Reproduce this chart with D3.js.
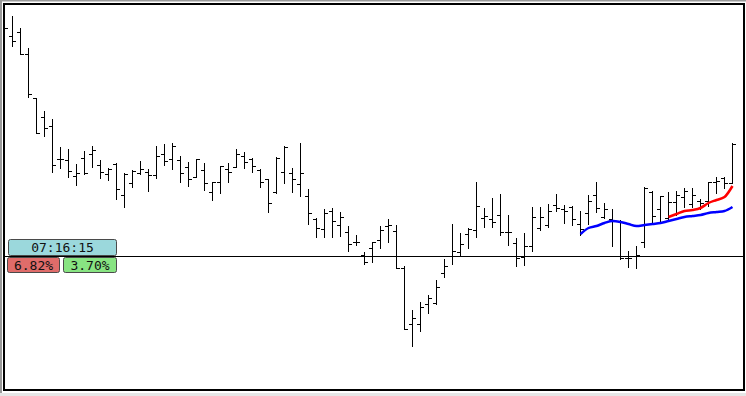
<!DOCTYPE html>
<html>
<head>
<meta charset="utf-8">
<script src="https://cdn.jsdelivr.net/npm/d3@7"></script>
<style>
html,body{margin:0;padding:0;background:#fff;overflow:hidden;}
svg{display:block;}
</style>
</head>
<body>
<script>
// ---- data (price points) ----
const opens  = [1226,1220,1224,1202,1158,1139,1130,1097,1096,1080,1098,1102,1091,1082,1092,1061,1073,1083,1084,1081,1102,1097,1096,1089,1079,1086,1064,1074,1087,1089,1100,1097,1086,1077,1064,1084,1083,1072,1060,1037,1027,1045,1031,1024,1014,1001,1008,1016,1030,1025,988,932,932,952,953,983,1000,1004,1022,1026,1038,1037,1041,1024,1013,999,1010,1028,1031,1051,1047,1049,1032,1043,1061,1039,1037,1035,998,1000,1014,1064,1047,1038,1054,1059,1052,1055,1055,1074,1078,1073];
const highs  = [1230,1240,1228,1208,1158,1145,1137,1109,1107,1092,1105,1110,1096,1088,1093,1083,1086,1095,1087,1110,1112,1113,1100,1094,1097,1093,1074,1090,1093,1107,1104,1098,1087,1077,1099,1110,1088,1113,1067,1038,1047,1048,1044,1030,1021,1004,1014,1030,1037,1031,990,946,954,961,976,997,1032,1023,1028,1074,1048,1058,1062,1041,1018,1023,1049,1049,1052,1062,1051,1050,1045,1061,1074,1053,1047,1036,1005,1010,1069,1065,1060,1064,1065,1068,1068,1057,1074,1079,1079,1113];
const lows   = [1225,1210,1202,1159,1123,1120,1084,1088,1079,1071,1082,1089,1078,1076,1057,1049,1069,1082,1065,1078,1091,1087,1074,1070,1079,1066,1056,1063,1074,1089,1088,1084,1069,1044,1063,1073,1064,1060,1032,1019,1019,1019,1020,1005,1011,992,994,1008,1014,988,927,910,925,943,952,979,992,1001,1008,1019,1029,1029,1021,1011,990,991,1005,1026,1029,1045,1033,1031,1021,1032,1044,1038,1010,997,989,988,1009,1034,1033,1037,1041,1049,1049,1047,1050,1063,1068,1073];
const closes = [1228,1215,1202,1162,1123,1128,1091,1097,1085,1083,1083,1106,1084,1087,1067,1082,1085,1087,1081,1100,1095,1110,1083,1077,1097,1073,1074,1090,1084,1102,1094,1090,1074,1053,1098,1109,1077,1083,1043,1028,1043,1035,1039,1012,1014,994,1014,1026,1031,988,927,938,949,958,969,990,1005,1012,1027,1050,1040,1034,1024,1024,998,1010,1039,1039,1045,1048,1045,1037,1027,1055,1048,1047,1036,998,998,1001,1068,1040,1060,1054,1061,1065,1061,1053,1074,1075,1073,1112];
const blueStart = 72;
const blueMA = [1022,1028,1030,1033,1035,1034,1032,1030,1031,1032,1033,1035,1037,1039,1040,1041,1043,1044,1045,1049];
const redStart = 83;
const redMA = [1039,1042,1045,1046,1048,1053,1056,1059,1070];
const refPrice = 1000;
const timeLabel = "07:16:15";
const pctLabels = ["6.82%", "3.70%"];

// ---- layout ----
const W = 746, H = 396;
const svg = d3.select("body").append("svg").attr("width", W).attr("height", H);

// window frame
svg.append("rect").attr("x",0).attr("y",0).attr("width",W).attr("height",H).attr("fill","#ffffff");
svg.append("rect").attr("x",0).attr("y",0).attr("width",2).attr("height",H).attr("fill","#9a9a9a");
svg.append("rect").attr("x",0).attr("y",0).attr("width",W).attr("height",1.5).attr("fill","#9a9a9a");
svg.append("rect").attr("x",0).attr("y",393).attr("width",W).attr("height",3).attr("fill","#e6e6e6");

const x = d3.scaleLinear().domain([0, opens.length - 1]).range([4, 732]);
const y = d3.scaleLinear().domain([866, 1252]).range([390, 4]);
const px = i => Math.round(x(i)) + 0.5;
const py = v => Math.round(y(v)) + 0.5;

svg.append("clipPath").attr("id","clip").append("rect")
  .attr("x",5).attr("y",5).attr("width",738).attr("height",384);

const g = svg.append("g").attr("clip-path","url(#clip)");

// reference line
g.append("line").attr("x1",4).attr("x2",744)
  .attr("y1", py(refPrice)).attr("y2", py(refPrice))
  .attr("stroke","#000").attr("stroke-width",1);

// OHLC bars
const bars = g.append("g").attr("stroke","#000").attr("stroke-width",1).attr("fill","none");
const idx = d3.range(opens.length);
bars.selectAll("path.bar").data(idx).join("path")
  .attr("class","bar")
  .attr("d", i => {
    const cx = px(i);
    return `M${cx},${Math.round(y(highs[i]))}V${Math.round(y(lows[i]))+1}` +
           `M${cx-3.5},${py(opens[i])}H${cx}` +
           `M${cx},${py(closes[i])}H${cx+3.5}`;
  });

// moving averages
const line = d3.line().x(d => x(d[0]) + 0.5).y(d => y(d[1])).curve(d3.curveMonotoneX);
g.append("path").datum(blueMA.map((v,k) => [blueStart + k, v]))
  .attr("d", line).attr("fill","none").attr("stroke","#0000ff").attr("stroke-width",2.5);
g.append("path").datum(redMA.map((v,k) => [redStart + k, v]))
  .attr("d", line).attr("fill","none").attr("stroke","#ff0000").attr("stroke-width",2.5);

// chart border
svg.append("rect").attr("x",4).attr("y",4).attr("width",740).attr("height",386)
  .attr("fill","none").attr("stroke","#000").attr("stroke-width",2);

// labels
const font = "'DejaVu Sans Mono', monospace";
const lab = svg.append("g");
lab.append("rect").attr("x",8.5).attr("y",239.5).attr("width",108).attr("height",16).attr("rx",2)
  .attr("fill","#9bd8dc").attr("stroke","#4a4a4a").attr("stroke-width",1);
lab.append("text").attr("x",62.5).attr("y",252).attr("text-anchor","middle")
  .attr("font-family",font).attr("font-size",13).attr("fill","#111").text(timeLabel);

const boxes = [{x:7.5, w:52, fill:"#e06c6a"}, {x:63.5, w:53, fill:"#88e482"}];
boxes.forEach((b,k) => {
  lab.append("rect").attr("x",b.x).attr("y",257.5).attr("width",b.w).attr("height",15).attr("rx",2)
    .attr("fill",b.fill).attr("stroke","#4a4a4a").attr("stroke-width",1);
  lab.append("text").attr("x",b.x + b.w/2).attr("y",269.5).attr("text-anchor","middle")
    .attr("font-family",font).attr("font-size",13).attr("fill","#111").text(pctLabels[k]);
});
</script>
</body>
</html>
